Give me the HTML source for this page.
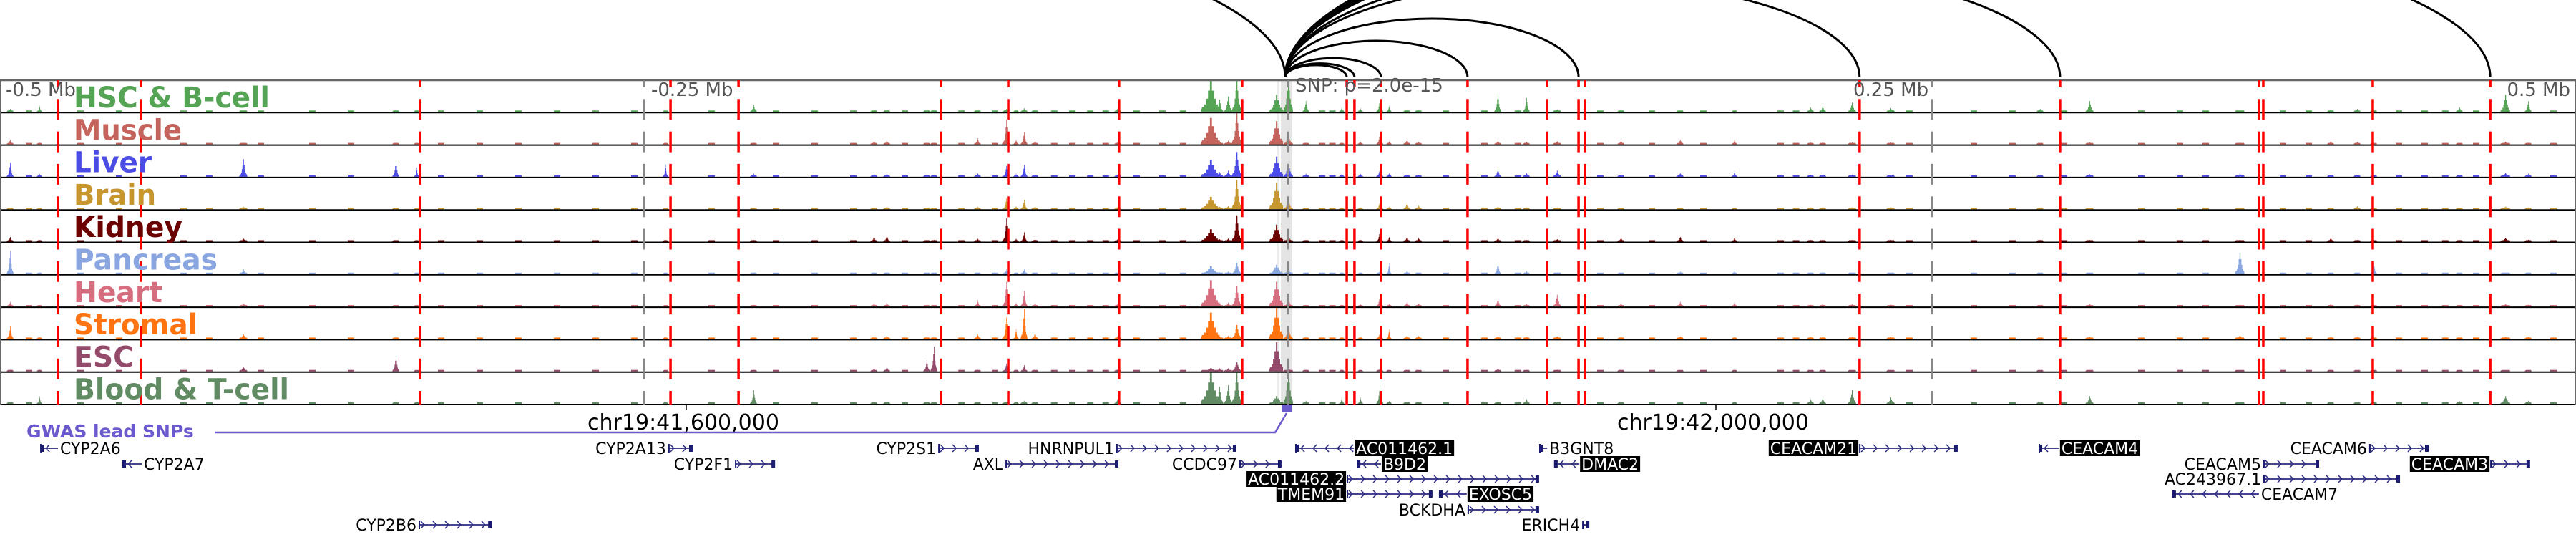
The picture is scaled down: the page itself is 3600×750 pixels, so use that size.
<!DOCTYPE html>
<html><head><meta charset="utf-8"><style>
html,body{margin:0;padding:0;background:#fff;width:3600px;height:750px;overflow:hidden}
svg{display:block}
text{font-family:"DejaVu Sans","Liberation Sans",sans-serif}
</style></head><body>
<svg id="fig" width="3600" height="750" viewBox="0 0 3600 750" xmlns="http://www.w3.org/2000/svg">
<g id="bg-layer"></g>
<g id="signal-layer"></g>
<g id="line-layer"></g>
<g id="arc-layer"></g>
<g id="label-layer"></g>
<g id="gene-layer"></g>
</svg>
<script>
// ---------- data ----------
const trackNames = ["HSC & B-cell","Muscle","Liver","Brain","Kidney","Pancreas","Heart","Stromal","ESC","Blood & T-cell"];
const trackColors = ["#55a355","#c4645c","#4b4be6","#c8962e","#6a0000","#8aa6e0","#d66e80","#ff7410","#944a6a","#618b63"];
const peakKb = [-496.1,-484.7,-405.6,-346.4,-338.3,-241.7,-207.5,-160.8,-155.8,-140.3,-137.5,-120.6,-109.4,-105.6,-102.5,-98.3,-66.1,-30.3,-26.7,-23.3,-20,-4.7,0,6.9,20.8,28.1,35.6,39.2,46.1,50.6,81.4,92.5,104.4,129.2,152.2,173.3,202.8,207.5,218.9,233.9,291.9,311.1,369.4,404.7,415,421.4,454.7,472.5,481.4];
const peakWidthKb = [1.7,1.1,2.2,1.7,1.1,1.1,1.7,1.7,1.7,1.7,1.7,1.7,1.7,1.1,1.7,1.7,1.7,6.1,2.2,2.2,2.8,4.4,2.8,1.7,1.1,1.1,1.7,1.1,1.7,1.7,1.7,1.7,2.2,1.7,1.7,1.1,1.7,1.7,2.2,2.2,1.7,2.2,2.8,1.7,1.7,1.7,1.7,2.8,1.7];
const hsc = [.1,.2,.03,.03,.03,.03,.23,.05,.08,.03,.03,.05,.1,.05,.12,.05,.15,1,.4,.5,1,.55,1,.35,.15,.12,.4,.2,.05,.05,.6,.45,.08,.03,.03,.03,.15,.18,.3,.12,.1,.35,.03,.05,.1,.03,.15,.55,.35];
const muscle = [.15,.05,.05,.05,.03,.05,.05,.1,.12,.05,.05,.2,.8,.15,.4,.1,.1,.85,.1,.12,1,.75,.25,.05,.05,.08,.35,.1,.15,.08,.12,.08,.1,.12,.15,.15,.06,.06,.06,.06,.04,.06,.05,.1,.08,.05,.04,.08,.05];
const liver = [.45,.1,.57,.5,.3,.4,.1,.1,.1,.05,.05,.12,.35,.1,.38,.08,.1,.55,.15,.2,.8,.65,.4,.1,.1,.1,.25,.12,.08,.06,.25,.12,.2,.06,.12,.2,.06,.08,.06,.06,.06,.08,.1,.06,.06,.05,.06,.12,.1];
const brain = [.05,.05,.08,.05,.03,.05,.05,.05,.08,.03,.03,.08,.35,.1,.3,.08,.1,.4,.08,.1,.95,.85,.25,.05,.05,.06,.25,.08,.2,.12,.08,.06,.06,.04,.04,.06,.06,.06,.06,.06,.03,.04,.03,.06,.1,.04,.03,.08,.06];
const kidney = [.15,.05,.1,.05,.03,.05,.05,.15,.2,.05,.05,.1,.76,.1,.3,.08,.1,.4,.08,.1,.85,.55,.15,.05,.05,.05,.35,.15,.15,.12,.12,.05,.08,.12,.15,.15,.05,.05,.05,.05,.05,.05,.05,.12,.05,.05,.05,.12,.06];
const pancreas = [.75,.05,.15,.05,.03,.05,.05,.05,.05,.03,.03,.05,.15,.05,.15,.05,.06,.25,.06,.08,.35,.3,.15,.05,.05,.05,.1,.35,.1,.05,.35,.1,.05,.04,.08,.1,.04,.06,.05,.04,.04,.04,.7,.04,.05,.35,.04,.05,.05];
const heart = [.15,.05,.1,.05,.03,.05,.05,.1,.12,.05,.05,.2,.8,.12,.5,.1,.12,.85,.1,.12,.65,.8,.2,.05,.05,.08,.35,.1,.15,.1,.25,.08,.38,.1,.15,.15,.06,.08,.08,.06,.04,.08,.05,.08,.06,.05,.04,.08,.06];
const stromal = [.4,.05,.15,.05,.03,.05,.05,.05,.1,.05,.05,.15,.69,.32,.96,.2,.12,.85,.08,.1,.45,1,.3,.05,.05,.05,.2,.3,.1,.1,.08,.06,.08,.06,.08,.06,.06,.06,.06,.06,.04,.06,.1,.06,.06,.05,.04,.06,.06];
const esc = [.05,.05,.15,.5,.03,.05,.05,.1,.15,.35,.8,.05,.25,.05,.2,.05,.08,.1,.1,.1,.3,.95,.1,.05,.05,.04,.1,.04,.06,.04,.1,.05,.05,.04,.04,.04,.03,.05,.04,.04,.03,.04,.03,.05,.04,.04,.04,.04,.04];
const blood = [.05,.25,.03,.1,.03,.03,.45,.05,.05,.03,.03,.05,.05,.05,.1,.05,.2,1,.55,.6,1,.25,1,.1,.2,.2,.6,.1,.05,.05,.1,.15,.06,.03,.03,.05,.15,.2,.45,.2,.05,.25,.03,.04,.04,.03,.08,.25,.1];
const trackValues = [hsc,muscle,liver,brain,kidney,pancreas,heart,stromal,esc,blood];
const backgroundKb = [-490,-470,-455,-430,-420,-400,-380,-365,-330,-315,-300,-285,-270,-255,-225,-200,-185,-170,-150,-128,-115,-92,-85,-78,-72,-60,-50,-42,12,16,60,75,88,120,140,160,190,196,240,265,280,300,330,345,355,385,395,430,440,448,460,490];
const markerKb = [-477.5,-445.3,-336.9,-239.7,-213.3,-134.7,-108.6,-65.6,-17.8,22.8,25.8,36.1,69.7,100.6,112.8,115.3,221.9,299.7,376.9,378.6,421.1,466.7];
const scaleKb = [-250,0,250];
const arcTargetKb = [-600,22.8,25.8,36.1,69.7,112.8,221.9,299.7,466.7,540,600,680,760];
const snpKb = -1.1;
const geneNames = ["CYP2A6","CYP2A13","CYP2S1","HNRNPUL1","AC011462.1","B3GNT8","CEACAM21","CEACAM4","CEACAM6","CYP2A7","CYP2F1","AXL","CCDC97","B9D2","DMAC2","CEACAM5","CEACAM3","AC011462.2","AC243967.1","TMEM91","EXOSC5","CEACAM7","BCKDHA","CYP2B6","ERICH4"];
const geneStartKb = [-484.4,-240.6,-135.8,-66.7,2.8,97.5,221.7,291.4,419.7,-452.5,-214.7,-109.7,-18.9,26.7,103.3,378.6,466.7,22.8,378.6,22.8,58.6,343.3,69.7,-337.5,114.2];
const geneEndKb = [-477.5,-231.4,-120.3,-20.3,25.6,100.6,259.7,299.4,442.5,-445,-199.4,-66.1,-2.8,36.1,113.1,400,481.9,97.2,431.4,55.8,69.4,376.9,97.2,-309.4,116.7];
const geneRow = [0,0,0,0,0,0,0,0,0,1,1,1,1,1,1,1,1,2,2,3,3,3,4,5,5];
const geneStrand = ["-","+","+","+","-","-","+","-","+","-","+","+","+","-","-","+","+","+","+","+","-","-","+","+","+"];
const geneHighlighted = [0,0,0,0,1,0,1,1,0,0,0,0,0,1,1,0,1,1,0,1,1,0,0,0,0];

// ---------- scales / layout ----------
const NS = "http://www.w3.org/2000/svg";
const X0 = 1800, PXKB = 3.6;
const xk = kb => X0 + kb * PXKB;
const TOP = 112, TH = 45.3, NT = 10;
const trackTop = i => TOP + i * TH;
const BOTTOM = TOP + NT * TH;
const rowY = [626, 648, 669, 690, 712, 733];
const labelWidths = [274,151,109,115,152,201,124,173,84,301];
function mk(tag, attrs, parent) { const e = document.createElementNS(NS, tag); for (const k in attrs) e.setAttribute(k, attrs[k]); parent.appendChild(e); return e; }

const bgL = document.getElementById("bg-layer");
const sigL = document.getElementById("signal-layer");
const lineL = document.getElementById("line-layer");
const arcL = document.getElementById("arc-layer");
const labL = document.getElementById("label-layer");
const geneL = document.getElementById("gene-layer");

let band = mk("rect", {x: xk(snpKb) - 6, y: TOP, width: 16, height: BOTTOM - TOP, fill: "#e4e4e4"}, bgL);


let band2 = mk("rect", {x: xk(snpKb) - 12, y: TOP, width: 3, height: BOTTOM - TOP, fill: "#ececec"}, bgL);



for (let t = 0; t < NT; t++) {
  const g = mk("g", {fill: trackColors[t]}, sigL);
  
  
  const base = trackTop(t) + TH - 1;
  const maxH = TH - 2;
  for (const kb of backgroundKb) {
    const r = mk("rect", {x: xk(kb), y: base - 2, width: 9, height: 2}, g);
    
    
  }
  const vals = trackValues[t];
  for (let i = 0; i < peakKb.length; i++) {
    const h = vals[i] * maxH;
    const c = xk(peakKb[i]);
    const hw = peakWidthKb[i] * PXKB / 2;
    let d = "M" + (c - hw - 2) + "," + base;
    const steps = 8;
    for (let s = 0; s <= steps; s++) {
      const u = -1 + 2 * s / steps;
      const f = Math.pow(1 - Math.abs(u), 1.6);
      const hh = Math.max(2, h * (0.15 + 0.85 * f));
      const xa = c - hw + (2 * hw) * s / steps;
      d += " L" + xa.toFixed(1) + "," + (base - hh).toFixed(1) + " L" + (xa + 2 * hw / steps).toFixed(1) + "," + (base - hh).toFixed(1);
    }
    d += " L" + (c + hw + 2) + "," + base + " Z";
    const p = mk("path", {d: d}, g);
    
    
  }
}

for (let t = 0; t < NT; t++) {
  const l = mk("line", {x1: 0, x2: 3600, y1: trackTop(t) + TH, y2: trackTop(t) + TH, stroke: "#000", "stroke-width": 2}, lineL);
  
  
}
let topB = mk("line", {x1: 0, x2: 3600, y1: TOP, y2: TOP, stroke: "#666", "stroke-width": 2.5}, lineL);


let lb = mk("line", {x1: 1, x2: 1, y1: TOP, y2: BOTTOM, stroke: "#666", "stroke-width": 2}, lineL);


let rb = mk("line", {x1: 3599, x2: 3599, y1: TOP, y2: BOTTOM, stroke: "#666", "stroke-width": 2}, lineL);



for (const kb of scaleKb) {
  const l = mk("line", {x1: xk(kb), x2: xk(kb), y1: TOP, y2: BOTTOM, stroke: "#888", "stroke-width": 2.5, "stroke-dasharray": "29 16.3", "stroke-dashoffset": 19}, lineL);
  
  
}
for (const kb of markerKb) {
  const l = mk("line", {x1: xk(kb), x2: xk(kb), y1: TOP, y2: BOTTOM, stroke: "#ff0000", "stroke-width": 3.5, "stroke-dasharray": "29 16.3", "stroke-dashoffset": 19}, lineL);
  
  
}

const ax = xk(snpKb), ay = 108;
for (const kb of arcTargetKb) {
  const tx = xk(kb);
  const R = Math.abs(tx - ax) / 2;
  const ry = 0.4 * R * Math.pow(250 / Math.max(R, 250), 0.35);
  const sweep = tx > ax ? 1 : 0;
  const p = mk("path", {d: `M${ax},${ay} A${R},${ry} 0 0 ${sweep} ${tx},${ay}`, fill: "none", stroke: "#000", "stroke-width": 3}, arcL);
  
  
}

for (let t = 0; t < NT; t++) {
  const tx = mk("text", {x: 103, y: trackTop(t) + 38, fill: trackColors[t], "font-size": 40, "font-weight": "bold", textLength: labelWidths[t], lengthAdjust: "spacingAndGlyphs"}, labL);
  tx.textContent = trackNames[t];
  
  
}
const scaleText = [["-0.5 Mb", 8, "start"], ["-0.25 Mb", 910, "start"], ["0.25 Mb", 2590, "start"], ["0.5 Mb", 3592, "end"]];
for (const s of scaleText) {
  const tx = mk("text", {x: s[1], y: 134, fill: "#555", "font-size": 26, "text-anchor": s[2]}, labL);
  tx.textContent = s[0];
  
  
}
let snpT = mk("text", {x: 1810, y: 128, fill: "#555", "font-size": 26}, labL);
snpT.textContent = "SNP: p=2.0e-15";



const coordText = [["chr19:41,600,000", 959], ["chr19:42,000,000", 2398]];
for (const c of coordText) {
  const tk = mk("line", {x1: c[1], x2: c[1], y1: BOTTOM, y2: BOTTOM + 7, stroke: "#000", "stroke-width": 1.5}, labL);
  
  
  const tx = mk("text", {x: c[1] - 4, y: 600, fill: "#000", "font-size": 30, "text-anchor": "middle"}, labL);
  tx.textContent = c[0];
  
  
}

let gw = mk("text", {x: 37, y: 611, fill: "#6a5acd", "font-size": 25, "font-weight": "bold"}, geneL);
gw.textContent = "GWAS lead SNPs";


let gwl = mk("path", {d: `M300,604 L1782,604 L${ax + 2},577`, fill: "none", stroke: "#6a5acd", "stroke-width": 2.5}, geneL);


let gws = mk("rect", {x: ax - 5, y: 566, width: 15, height: 10, fill: "#6a5acd"}, geneL);



for (let i = 0; i < geneNames.length; i++) {
  const g = mk("g", {}, geneL);
  
  
  const y = rowY[geneRow[i]];
  const x1 = xk(geneStartKb[i]), x2 = xk(geneEndKb[i]);
  mk("line", {x1: x1, x2: x2, y1: y, y2: y, stroke: "#2a2a80", "stroke-width": 1.8}, g);
  const dir = geneStrand[i] === "+" ? 1 : -1;
  for (let ax2 = x1 + 8; ax2 < x2 - 4; ax2 += 17) {
    mk("path", {d: `M${ax2 - 5 * dir},${y - 5} L${ax2},${y} L${ax2 - 5 * dir},${y + 5}`, fill: "none", stroke: "#2a2a80", "stroke-width": 1.5}, g);
  }
  mk("line", {x1: x1 + 1, x2: x1 + 1, y1: y - 6, y2: y + 6, stroke: "#1a1a6e", "stroke-width": 2}, g);
  const endX = dir > 0 ? x2 - 4 : x1;
  mk("rect", {x: endX, y: y - 5, width: 5, height: 10, fill: "#1a1a6e"}, g);
  const labelRight = dir < 0;
  const lx = labelRight ? x2 + 3 : x1 - 3;
  const anchor = labelRight ? "start" : "end";
  const tx = mk("text", {x: lx, y: y + 8, "font-size": 22, "text-anchor": anchor, fill: geneHighlighted[i] ? "#fff" : "#000"}, g);
  tx.textContent = geneNames[i];
  if (geneHighlighted[i]) {
    const w = tx.getComputedTextLength();
    const bx = labelRight ? lx - 2 : lx - w - 2;
    const box = document.createElementNS(NS, "rect");
    box.setAttribute("x", bx); box.setAttribute("y", y - 11); box.setAttribute("width", w + 4); box.setAttribute("height", 22); box.setAttribute("fill", "#000");
    g.insertBefore(box, tx);
  }
}
</script>
</body></html>
